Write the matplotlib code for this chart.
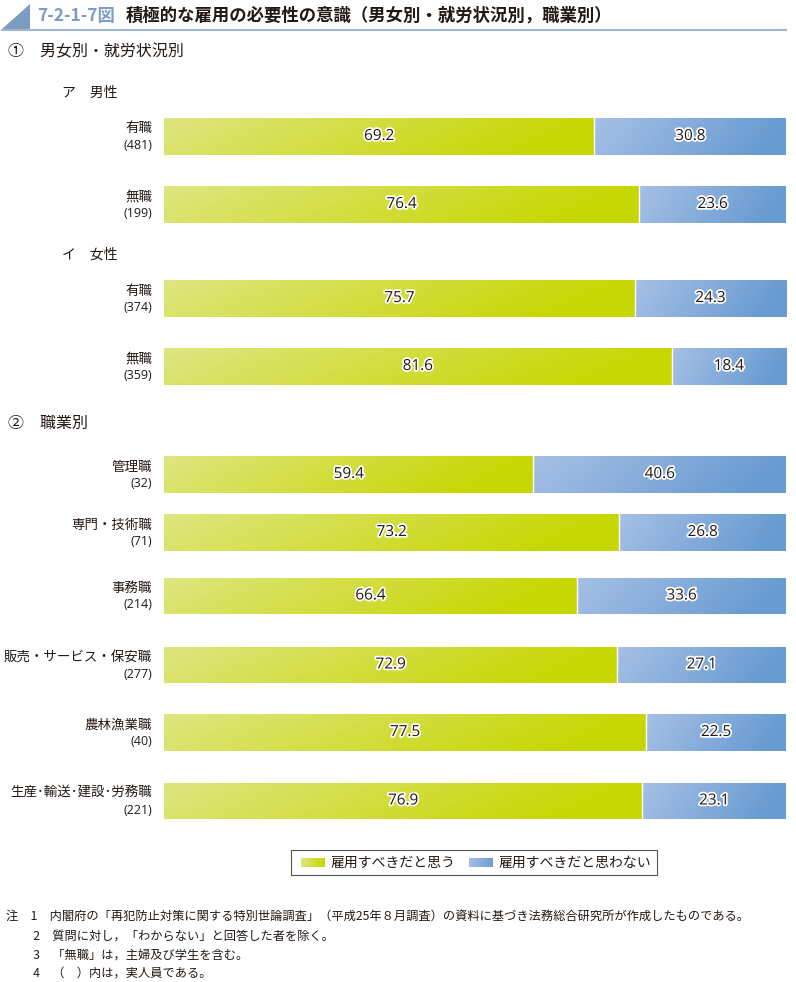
import numpy as np
import matplotlib
matplotlib.use("Agg")
import matplotlib.pyplot as plt
import matplotlib.patheffects as pe
from matplotlib.colors import LinearSegmentedColormap
from matplotlib.patches import Polygon, Rectangle

plt.rcParams['font.family'] = ['Noto Sans CJK JP', 'DejaVu Sans']

# ---- data ----
categories = ["有職", "無職", "有職", "無職",
              "管理職", "専門・技術職", "事務職", "販売・サービス・保安職", "農林漁業職", "生産･輸送･建設･労務職"]
counts = [481, 199, 374, 359, 32, 71, 214, 277, 40, 221]
should_hire = [69.2, 76.4, 75.7, 81.6, 59.4, 73.2, 66.4, 72.9, 77.5, 76.9]
should_not_hire = [30.8, 23.6, 24.3, 18.4, 40.6, 26.8, 33.6, 27.1, 22.5, 23.1]
series_names = ["雇用すべきだと思う", "雇用すべきだと思わない"]
notes = [
    "注\u30001\u3000内閣府の「再犯防止対策に関する特別世論調査」（平成25年８月調査）の資料に基づき法務総合研究所が作成したものである。",
    "\u3000\u3000 2\u3000質問に対し，「わからない」と回答した者を除く。",
    "\u3000\u3000 3\u3000「無職」は，主婦及び学生を含む。",
    "\u3000\u3000 4\u3000（　）内は，実人員である。",
]

# ---- layout (pixels, top-origin) ----
W, H = 796, 982
bar_centers = [136.5, 204.5, 298.5, 366.5, 474.5, 532.5, 596, 665, 732.5, 801]
bar_h = 37

fig = plt.figure(figsize=(W / 100, H / 100), dpi=100)
x0, x1 = 164, 786
ax = fig.add_axes([x0 / W, 0, (x1 - x0) / W, 1])
ax.set_xlim(0, 100)
ax.set_ylim(H, 0)
ax.axis('off')

green_cmap = LinearSegmentedColormap.from_list("g", [(0.87, 0.90, 0.50), (0.78, 0.84, 0.0)])
blue_cmap = LinearSegmentedColormap.from_list("b", [(0.65, 0.75, 0.90), (0.41, 0.61, 0.82)])

def gradient_fill(patch, cmap):
    x, y = patch.get_x(), patch.get_y()
    w, h = patch.get_width(), patch.get_height()
    grad = np.linspace(0, 1, 256).reshape(1, -1)
    grad = grad + np.linspace(0, 0.15, 8).reshape(-1, 1)
    grad = np.clip(grad, 0, 1)
    im = ax.imshow(grad, cmap=cmap, aspect='auto', extent=(x, x + w, y + h, y),
                   origin='upper', zorder=2, vmin=0, vmax=1)
    im.set_clip_path(patch)
    patch.set_facecolor('none')

b1 = ax.barh(bar_centers, should_hire, height=bar_h, color='none', edgecolor='none', zorder=3)
b2 = ax.barh(bar_centers, should_not_hire, left=should_hire, height=bar_h, color='none',
             edgecolor='none', zorder=3)
for p in b1.patches:
    gradient_fill(p, green_cmap)
for p in b2.patches:
    gradient_fill(p, blue_cmap)
    ax.plot([p.get_x(), p.get_x()], [p.get_y(), p.get_y() + p.get_height()],
            color='white', linewidth=1.0, zorder=4)

halo = [pe.withStroke(linewidth=2.5, foreground='white')]
for c, a, b in zip(bar_centers, should_hire, should_not_hire):
    ax.text(a / 2, c, f"{a:.1f}", ha='center', va='center', fontsize=11, color='#231815',
            path_effects=halo, zorder=5, family=['Open Sans', 'DejaVu Sans'])
    ax.text(a + b / 2, c, f"{b:.1f}", ha='center', va='center', fontsize=11, color='#231815',
            path_effects=halo, zorder=5, family=['Open Sans', 'DejaVu Sans'])

# category labels
for c, name, n in zip(bar_centers, categories, counts):
    fig.text(152 / W, 1 - (c - 8) / H, name, ha='right', va='center', fontsize=9.7, color='#231815')
    fig.text(152 / W, 1 - (c + 9) / H, f"({n})", ha='right', va='center', fontsize=9,
             color='#231815', family=['Open Sans', 'DejaVu Sans'])

# title
tri = Polygon([(2 / W, 1 - 29 / H), (30 / W, 1 - 4 / H), (30 / W, 1 - 29 / H)],
              closed=True, transform=fig.transFigure, facecolor='#7d9cc2', edgecolor='none')
fig.patches.append(tri)
fig.add_artist(plt.Line2D([2 / W, 786 / W], [1 - 29.5 / H, 1 - 29.5 / H], transform=fig.transFigure,
                          color='#9fb6d3', linewidth=1.5))
fig.text(37 / W, 1 - 16 / H, "7-2-1-7図", ha='left', va='center', fontsize=12.5,
         fontweight='bold', color='#7d9cc2')
fig.text(126 / W, 1 - 16 / H, "積極的な雇用の必要性の意識（男女別・就労状況別，職業別）", ha='left',
         va='center', fontsize=12.5, fontweight='bold', color='#231815')

# section headings
fig.text(8 / W, 1 - 52 / H, "①\u3000男女別・就労状況別", ha='left', va='center', fontsize=11.5, color='#231815')
fig.text(62 / W, 1 - 93 / H, "ア\u3000男性", ha='left', va='center', fontsize=10, color='#231815')
fig.text(62 / W, 1 - 255 / H, "イ\u3000女性", ha='left', va='center', fontsize=10, color='#231815')
fig.text(8 / W, 1 - 423 / H, "②\u3000職業別", ha='left', va='center', fontsize=11.5, color='#231815')

# legend
frame = Rectangle((291 / W, 1 - 875 / H), (657 - 291) / W, 25 / H, transform=fig.transFigure,
                  facecolor='white', edgecolor='#555555', linewidth=0.8, zorder=-1)
fig.patches.append(frame)
for lx, cmap, label in [(301, green_cmap, series_names[0]), (469, blue_cmap, series_names[1])]:
    lax = fig.add_axes([lx / W, 1 - 867 / H, 24 / W, 9 / H])
    lax.imshow(np.linspace(0, 1, 64).reshape(1, -1), cmap=cmap, aspect='auto', vmin=0, vmax=1)
    lax.axis('off')
    fig.text((lx + 30) / W, 1 - 862.5 / H, label, ha='left', va='center', fontsize=10, color='#231815')

# notes
for i, (y, t) in enumerate(zip([916, 936, 955, 973], notes)):
    fig.text(6 / W, 1 - y / H, t, ha='left', va='center', fontsize=8.8, color='#231815')

fig.savefig("out.png", dpi=100)
